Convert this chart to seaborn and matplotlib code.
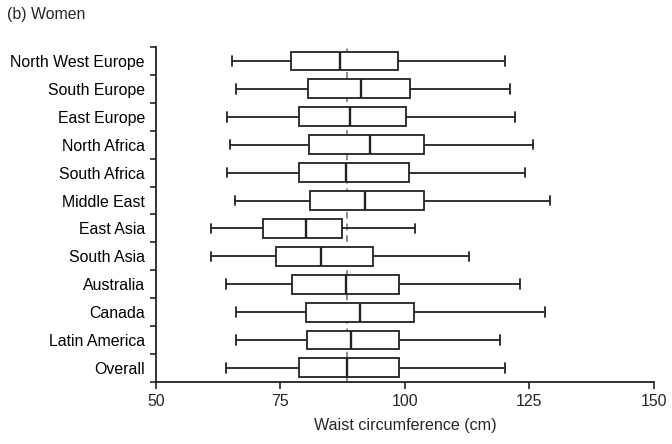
import matplotlib
matplotlib.use('Agg')
import matplotlib.pyplot as plt
import numpy as np
import pandas as pd
import seaborn as sns

# Five-number summaries (cm)
regions = ['North West Europe', 'South Europe', 'East Europe', 'North Africa',
           'South Africa', 'Middle East', 'East Asia', 'South Asia',
           'Australia', 'Canada', 'Latin America', 'Overall']
lows = [65.3, 66.1, 64.2, 64.9, 64.2, 65.9, 61.0, 61.0, 64.1, 66.1, 66.1, 64.1]
q1s = [77.2, 80.6, 78.7, 80.8, 78.7, 81.0, 71.5, 74.1, 77.3, 80.2, 80.3, 78.8]
medians = [87.0, 91.2, 89.0, 93.0, 88.1, 92.0, 80.2, 83.2, 88.1, 91.0, 89.1, 88.3]
q3s = [98.7, 101.0, 100.3, 103.9, 100.9, 103.8, 87.3, 93.5, 98.9, 101.9, 98.9, 98.9]
highs = [120.1, 121.1, 122.2, 125.8, 124.1, 129.1, 102.1, 112.9, 123.2, 128.1, 119.1, 120.2]
overall_median = 88.3

# long table: 5 points per region reproduce the summary exactly
rows = []
for i, r in enumerate(regions):
    for v in (lows[i], q1s[i], medians[i], q3s[i], highs[i]):
        rows.append({'region': r, 'waist': v})
df = pd.DataFrame(rows)

sns.set_style('ticks')
plt.rcParams['font.family'] = ['Liberation Sans', 'DejaVu Sans']
fs = 11.4

fig = plt.figure(figsize=(6.72, 4.44), dpi=100)
ax = fig.add_axes([0.232, 0.140, 0.741, 0.754])

lw = 1.3
sns.boxplot(data=df, x='waist', y='region', order=regions, orient='h',
            whis=(0, 100), width=0.68, color='white', linecolor='#222222',
            linewidth=lw, fliersize=0, ax=ax,
            capprops=dict(linewidth=lw), medianprops=dict(linewidth=lw + 0.4))

ax.axvline(overall_median, color='#8c8c8c', linestyle=(0, (3.5, 2.5)), linewidth=1.4, zorder=0.5)

ax.set_xlim(50, 150)
ax.set_ylim(len(regions) - 0.5, -0.5)
ax.set_xticks([50, 75, 100, 125, 150])
ax.set_yticks(np.arange(len(regions)))
ax.set_yticklabels(regions)
ax.set_yticks(np.arange(len(regions) + 1) - 0.5, minor=True)
ax.tick_params(axis='y', which='major', length=0, pad=8, labelsize=fs, colors='black')
ax.tick_params(axis='y', which='minor', length=4, width=1.2, color='#222222')
ax.tick_params(axis='x', length=5, width=1.2, color='#222222', labelsize=fs, pad=4)

for s in ['top', 'right']:
    ax.spines[s].set_visible(False)
for s in ['left', 'bottom']:
    ax.spines[s].set_linewidth(1.3)
    ax.spines[s].set_color('#222222')

ax.set_xlabel('Waist circumference (cm)', fontsize=fs + 0.2, labelpad=6)
ax.set_ylabel('')
fig.text(0.011, 0.968, '(b) Women', fontsize=fs, ha='left', va='center')

fig.savefig('out.png', dpi=100)
